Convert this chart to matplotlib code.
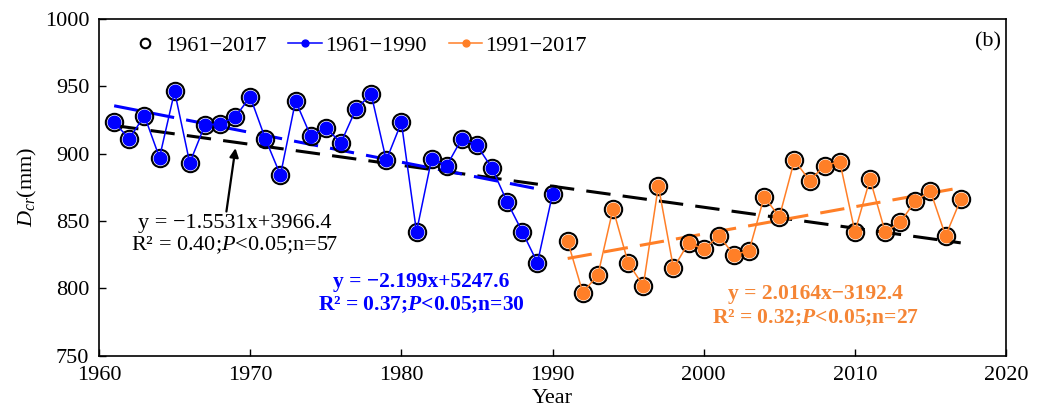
import numpy as np
import matplotlib
matplotlib.use("Agg")
import matplotlib.pyplot as plt

plt.rcParams['font.family'] = ['Liberation Serif', 'DejaVu Serif']
plt.rcParams['mathtext.fontset'] = 'custom'
plt.rcParams['mathtext.rm'] = 'Liberation Serif'
plt.rcParams['mathtext.it'] = 'Liberation Serif:italic'
plt.rcParams['mathtext.bf'] = 'Liberation Serif:bold'
plt.rcParams['mathtext.bfit'] = 'Liberation Serif:italic:bold'

years1 = list(range(1961, 1991))
dcr1 = [923, 911, 928, 897, 946, 893, 921, 922, 927, 942,
        911, 884, 939, 913, 919, 908, 933, 944, 895, 923,
        842, 896, 891, 911, 906, 889, 864, 842, 819, 870]
years2 = list(range(1991, 2018))
dcr2 = [835, 797, 810, 859, 819, 802, 876, 815, 834, 829,
        839, 825, 828, 868, 853, 895, 880, 891, 894, 842,
        881, 842, 849, 865, 872, 839, 866]

# linear fits (slope, intercept)
fit_all = (-1.5531, 3966.4)
fit1 = (-2.199, 5247.6)
fit2 = (2.0164, -3192.4)

blue = '#0000FF'
orange = '#FF7F27'
orange_txt = '#F58535'

fig = plt.figure(figsize=(10.48, 4.12), dpi=100)
ax = fig.add_axes([0.0945, 0.136, 0.8655, 0.819])

years = years1 + years2
dcr = dcr1 + dcr2

def trend(x0, x1, p):
    x = np.array([x0, x1])
    return x, p[0] * x + p[1]

x, y = trend(1961, 2017, fit_all)
ax.plot(x, y, color='black', lw=2.2, dashes=(8, 4), zorder=2)
x, y = trend(1961, 1990, fit1)
ax.plot(x, y, color=blue, lw=2.2, dashes=(8, 4), zorder=2)
x, y = trend(1991, 2017, fit2)
ax.plot(x, y, color=orange, lw=2.2, dashes=(8, 4), zorder=2)

ax.plot(years, dcr, 'o', ms=12.5, mfc='none', mec='black', mew=1.5,
        zorder=3, label='1961\u22122017')
ax.plot(years1, dcr1, '-o', color=blue, lw=1.1, ms=9, mec=blue,
        zorder=4, label='1961\u22121990')
ax.plot(years2, dcr2, '-o', color=orange, lw=1.1, ms=9, mec=orange,
        zorder=4, label='1991\u22122017')

ax.set_xlim(1960, 2020)
ax.set_ylim(750, 1000)
ax.set_xticks(range(1960, 2021, 10))
ax.set_yticks(range(750, 1001, 50))
ax.tick_params(direction='in', length=5, width=1, labelsize=16, pad=7)
for s in ax.spines.values():
    s.set_linewidth(1.2)

ax.set_xlabel('Year', fontsize=16, labelpad=3)
ax.set_ylabel('$D_{cr}$(mm)', fontsize=16, labelpad=4)

ax.legend(loc='upper left', ncol=3, frameon=False, fontsize=16,
          bbox_to_anchor=(0.01, 1.01), handlelength=1.5, handletextpad=0.15,
          columnspacing=1.0, markerscale=0.55)

ax.text(0.994, 0.93, '(b)', transform=ax.transAxes, ha='right', va='center',
        fontsize=16)

ax.annotate('', xy=(1969.05, 906), xytext=(1968.4, 855),
            arrowprops=dict(arrowstyle='-|>', color='black', lw=1.6,
                            mutation_scale=13))
ax.text(1969.0, 839.5, 'y = \u22121.5531x+3966.4\nR\u00b2 = 0.40;$\\mathit{P}$<0.05;n=57',
        ha='center', va='center', fontsize=16, linespacing=1.1)
ax.text(1981.3, 796, 'y = \u22122.199x+5247.6\nR\u00b2 = 0.37;$\\mathbfit{P}$<0.05;n=30',
        ha='center', va='center', fontsize=15.5, linespacing=1.15,
        color=blue, fontweight='bold')
ax.text(2007.4, 787, 'y = 2.0164x\u22123192.4\nR\u00b2 = 0.32;$\\mathbfit{P}$<0.05;n=27',
        ha='center', va='center', fontsize=15.5, linespacing=1.15,
        color=orange_txt, fontweight='bold')

fig.savefig('out.png', dpi=100)
